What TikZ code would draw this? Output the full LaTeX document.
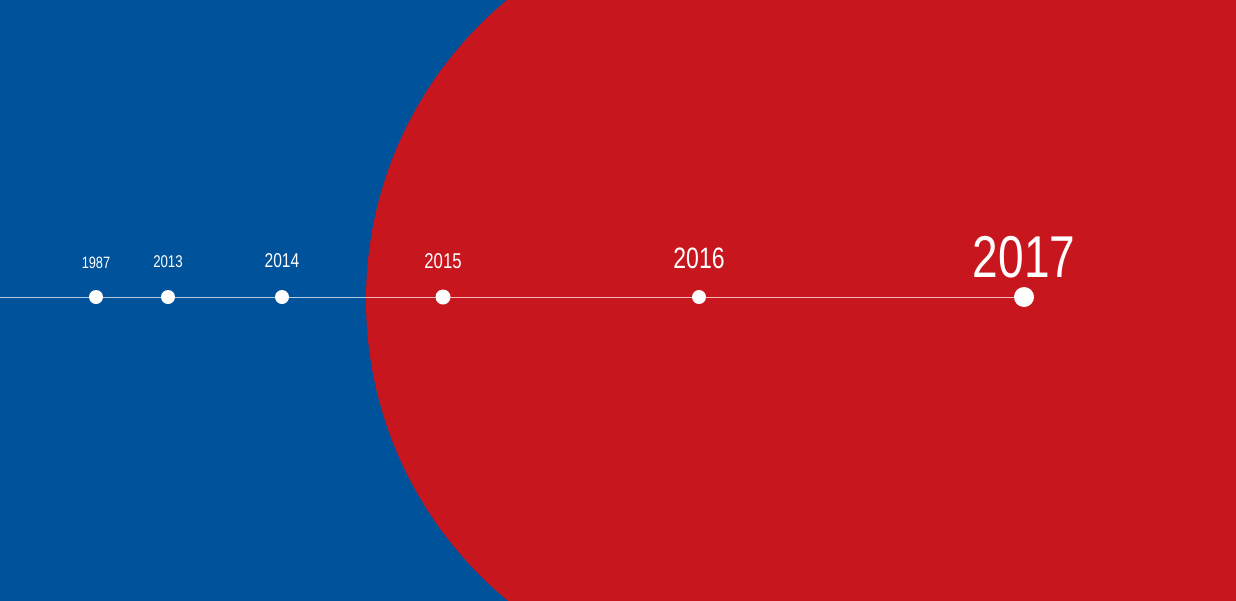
\documentclass[tikz,border=0pt]{standalone}
\usepackage{fontspec}
\setmainfont[FakeStretch=0.78]{Liberation Sans}
\definecolor{bgblue}{HTML}{00529B}
\definecolor{bigred}{HTML}{C8161E}
\tikzset{
  yeardot/.style={circle,fill=white,inner sep=0pt,minimum size=#1},
  yearlabel/.style={text=white,anchor=base,inner sep=0pt,font=\fontsize{#1}{#1}\selectfont},
  timeline/.style={white,opacity=0.7,line width=0.8pt}
}
\begin{document}
\begin{tikzpicture}[x=1pt,y=-1pt]
\pgfmathsetmacro\liney{297};
\useasboundingbox (0,0) rectangle (1236,600);
\fill[bgblue] (-5,-5) rectangle (1241,605);
\fill[bigred] (755.6,300) circle (389.6);
\fill[bigred] (755.6,-5) rectangle (1241,605);
\coordinate (start) at (0,\liney);
% year / dot x / font size / baseline / dot size
\foreach \yr/\x/\fs/\base/\d in {1987/96/16.4/268/14, 2013/168/17/267/14, 2014/282/20/267/14, 2015/443/21.4/268/15, 2016/699/29.5/268.5/14, 2017/1024/59/277/20}{
  \node[yeardot=\d] (d\yr) at (\x,\liney) {};
  \node[yearlabel=\fs] (t\yr) at (\x,\base) {\yr};
}
\draw[timeline] (start) -- (d2017);
\end{tikzpicture}
\end{document}
